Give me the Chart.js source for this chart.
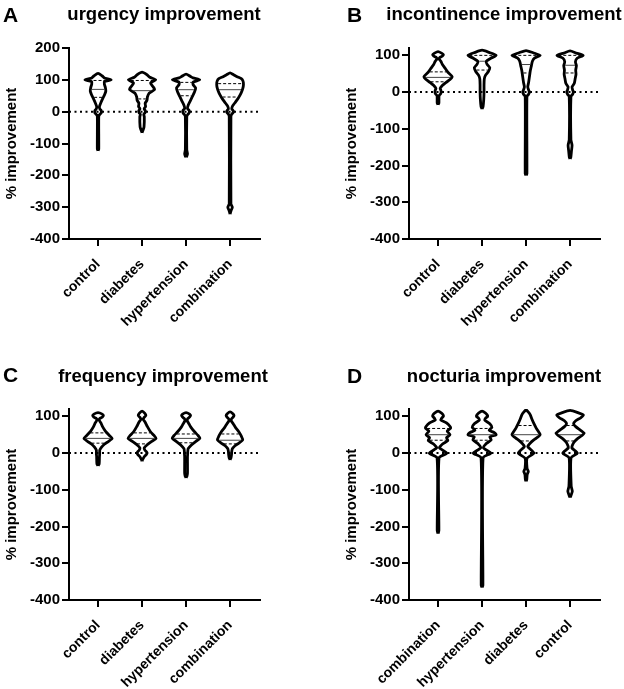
<!DOCTYPE html>
<html>
<head>
<meta charset="utf-8">
<script src="https://cdn.jsdelivr.net/npm/chart.js@4.4.1/dist/chart.umd.min.js"></script>
<style>
  body { margin: 0; background: #fff; overflow: hidden; }
  #fig { position: relative; width: 624px; height: 689px; font-family: "Liberation Sans", Arial, sans-serif; }
  canvas { position: absolute; }
  .tag { position: absolute; font-weight: bold; font-size: 21px; line-height: 21px; color: #000; }
  .title { position: absolute; width: 400px; text-align: center; font-weight: bold; font-size: 18.5px; line-height: 20px; color: #000; white-space: nowrap; }
</style>
</head>
<body>
<div id="fig">
  <canvas id="chartA" width="284" height="328" style="left:0;top:0"></canvas>
  <canvas id="chartB" width="284" height="328" style="left:340px;top:0"></canvas>
  <canvas id="chartC" width="284" height="328" style="left:0;top:361px"></canvas>
  <canvas id="chartD" width="284" height="328" style="left:340px;top:361px"></canvas>
  <div class="tag" style="left:3px;top:4px">A</div>
  <div class="tag" style="left:347px;top:4px">B</div>
  <div class="tag" style="left:3px;top:364px">C</div>
  <div class="tag" style="left:347px;top:365px">D</div>
  <div class="title" id="titleA" style="left:-36px;top:4px"></div>
  <div class="title" id="titleB" style="left:304px;top:4px"></div>
  <div class="title" id="titleC" style="left:-37px;top:366px"></div>
  <div class="title" id="titleD" style="left:304px;top:366px"></div>
</div>
<script>
const groupsABC = ["control", "diabetes", "hypertension", "combination"];
const groupsD = ["combination", "hypertension", "diabetes", "control"];

// violin outlines: y levels (top to bottom) and relative density (1 = widest)
const urgencyLevels = [
  [120, 112, 106, 100, 94, 86, 76, 64, 52, 40, 28, 16, 9, 4, 0, -4, -9, -14, -118, -122],
  [124, 116, 108, 100, 90, 80, 70, 58, 46, 36, 26, 16, 9, 4, 0, -4, -9, -16, -48, -58, -66],
  [118, 111, 106, 100, 93, 85, 74, 62, 48, 34, 20, 10, 5, 0, -5, -10, -16, -120, -132, -140, -143],
  [122, 116, 110, 104, 96, 85, 72, 58, 44, 30, 18, 9, 4, 0, -4, -9, -16, -290, -300, -312, -322]
];
const urgencyDensity = [
  [0, 0.3, 0.45, 0.93, 0.45, 0.45, 0.52, 0.55, 0.45, 0.32, 0.2, 0.1, 0.12, 0.22, 0.24, 0.22, 0.12, 0.05, 0.05, 0],
  [0, 0.35, 0.55, 0.97, 0.6, 0.75, 0.9, 0.5, 0.38, 0.35, 0.22, 0.25, 0.15, 0.22, 0.24, 0.2, 0.12, 0.16, 0.14, 0.07, 0],
  [0, 0.3, 0.5, 0.97, 0.5, 0.5, 0.68, 0.6, 0.45, 0.3, 0.15, 0.1, 0.2, 0.24, 0.2, 0.1, 0.05, 0.05, 0.1, 0.05, 0],
  [0, 0.25, 0.5, 0.8, 0.92, 0.95, 0.9, 0.78, 0.6, 0.38, 0.18, 0.12, 0.2, 0.25, 0.2, 0.1, 0.06, 0.06, 0.16, 0.06, 0]
];
const urgencyMedian = [70, 66, 69, 69];
const urgencyQ1 = [45, 40, 50, 46];
const urgencyQ3 = [98, 98, 92, 88];

const incontinenceLevels = [
  [110, 106, 102, 98, 94, 90, 84, 76, 66, 54, 42, 34, 26, 18, 10, 5, 0, -5, -10, -30, -34],
  [114, 108, 100, 92, 84, 76, 66, 56, 46, 36, 20, 0, -20, -40, -46],
  [113, 107, 100, 93, 84, 72, 58, 42, 26, 14, 6, 0, -6, -12, -222, -227],
  [112, 106, 100, 92, 82, 72, 60, 48, 36, 24, 14, 6, 0, -6, -12, -130, -145, -160, -178, -182]
];
const incontinenceDensity = [
  [0, 0.25, 0.38, 0.3, 0.12, 0.08, 0.2, 0.3, 0.48, 0.7, 1.0, 0.85, 0.55, 0.3, 0.15, 0.2, 0.22, 0.18, 0.07, 0.06, 0],
  [0, 0.5, 1.0, 0.62, 0.3, 0.35, 0.55, 0.45, 0.25, 0.16, 0.14, 0.14, 0.12, 0.07, 0],
  [0, 0.5, 1.0, 0.62, 0.45, 0.38, 0.3, 0.24, 0.18, 0.12, 0.18, 0.24, 0.18, 0.06, 0.06, 0],
  [0, 0.45, 0.93, 0.5, 0.38, 0.45, 0.4, 0.42, 0.36, 0.3, 0.14, 0.18, 0.24, 0.18, 0.06, 0.06, 0.14, 0.1, 0.05, 0]
];
const incontinenceMedian = [40, 84, 75, 73];
const incontinenceQ1 = [28, 60, 52, 52];
const incontinenceQ3 = [55, 100, 100, 100];

const frequencyLevels = [
  [110, 106, 102, 98, 94, 90, 82, 72, 60, 48, 40, 32, 24, 16, 8, 0, -10, -30, -34],
  [114, 108, 102, 97, 92, 84, 72, 58, 48, 40, 32, 22, 14, 8, 4, 0, -4, -10, -18, -22],
  [110, 106, 102, 98, 93, 88, 80, 70, 58, 48, 40, 32, 22, 12, 4, 0, -10, -55, -63, -67],
  [112, 107, 102, 98, 93, 88, 80, 70, 58, 46, 36, 28, 20, 12, 5, -5, -14, -18]
];
const frequencyDensity = [
  [0, 0.3, 0.38, 0.3, 0.12, 0.08, 0.2, 0.32, 0.52, 0.8, 1.0, 0.75, 0.45, 0.25, 0.12, 0.12, 0.1, 0.08, 0],
  [0, 0.2, 0.27, 0.15, 0.08, 0.22, 0.38, 0.6, 0.85, 1.0, 0.7, 0.35, 0.15, 0.2, 0.3, 0.36, 0.3, 0.15, 0.04, 0],
  [0, 0.25, 0.32, 0.25, 0.1, 0.08, 0.2, 0.35, 0.6, 0.85, 0.98, 0.7, 0.38, 0.15, 0.12, 0.12, 0.1, 0.1, 0.06, 0],
  [0, 0.2, 0.28, 0.22, 0.1, 0.08, 0.22, 0.38, 0.62, 0.8, 0.9, 0.65, 0.35, 0.16, 0.12, 0.1, 0.06, 0]
];
const frequencyMedian = [40, 40, 40, 35];
const frequencyQ1 = [27, 25, 28, 25];
const frequencyQ3 = [55, 55, 52, 52];

const nocturiaLevels = [
  [114, 109, 104, 100, 95, 90, 82, 68, 60, 50, 42, 34, 24, 14, 0, -13, -210, -216, -219],
  [114, 109, 104, 100, 95, 90, 80, 70, 62, 56, 50, 44, 36, 26, 14, 0, -13, -360, -366],
  [118, 112, 104, 92, 80, 68, 56, 50, 44, 36, 28, 18, 0, -14, -42, -50, -58, -72, -77],
  [116, 110, 103, 96, 88, 80, 72, 62, 54, 48, 40, 30, 20, 14, 0, -13, -90, -104, -116, -121]
];
const nocturiaDensity = [
  [0, 0.25, 0.36, 0.38, 0.25, 0.2, 0.6, 0.9, 0.65, 0.85, 0.6, 0.7, 0.3, 0.1, 0.62, 0.07, 0.06, 0.03, 0],
  [0, 0.25, 0.36, 0.4, 0.25, 0.18, 0.55, 0.7, 0.5, 0.85, 1.0, 0.55, 0.65, 0.3, 0.1, 0.62, 0.07, 0.06, 0],
  [0, 0.15, 0.3, 0.42, 0.56, 0.72, 0.92, 1.0, 0.85, 0.55, 0.32, 0.12, 0.55, 0.07, 0.07, 0.16, 0.08, 0.05, 0],
  [0, 0.55, 0.95, 0.75, 0.4, 0.25, 0.4, 0.75, 1.0, 0.85, 0.55, 0.28, 0.15, 0.12, 0.52, 0.07, 0.08, 0.16, 0.06, 0]
];
const nocturiaMedian = [50, 50, 50, 50];
const nocturiaQ1 = [35, 35, 33, 33];
const nocturiaQ3 = [67, 67, 75, 75];

const FONT = "'Liberation Sans', Arial, sans-serif";
const HALF = 0.32; // half width of the widest violin, in category units

const densityAt = (levels, dens, v) => {
  for (let k = 0; k < levels.length - 1; k++) {
    if (v <= levels[k] && v >= levels[k + 1]) {
      const t = (levels[k] - v) / (levels[k] - levels[k + 1]);
      return dens[k] + t * (dens[k + 1] - dens[k]);
    }
  }
  return 0;
};

const outline = (center, levels, dens) => {
  const pts = [];
  for (let k = levels.length - 1; k >= 0; k--) pts.push({ x: center + dens[k] * HALF, y: levels[k] });
  for (let k = 1; k < levels.length; k++) pts.push({ x: center - dens[k] * HALF, y: levels[k] });
  return pts;
};

const hLine = (center, levels, dens, v, dashed) => {
  const w = Math.max(densityAt(levels, dens, v) * HALF - 0.03, 0);
  return {
    data: [{ x: center - w, y: v }, { x: center + w, y: v }],
    showLine: true,
    borderColor: dashed ? "#000" : "#444",
    borderWidth: 1,
    borderDash: dashed ? [3, 2] : [],
    pointRadius: 0,
    fill: false,
  };
};

const makeChart = (id, title, groups, levels, dens, median, q1, q3, yMax) => {
  document.getElementById("title" + id.slice(-1)).textContent = title;

  const datasets = [];
  groups.forEach((g, i) => {
    datasets.push(hLine(i, levels[i], dens[i], median[i], false));
    datasets.push(hLine(i, levels[i], dens[i], q1[i], true));
    datasets.push(hLine(i, levels[i], dens[i], q3[i], true));
    datasets.push({
      label: g,
      data: outline(i, levels[i], dens[i]),
      showLine: true,
      borderColor: "#000",
      borderWidth: 2.8,
      borderJoinStyle: "round",
      tension: 0.2,
      pointRadius: 0,
      fill: false,
    });
  });
  // dotted zero line (last dataset, drawn underneath)
  datasets.push({
    data: [{ x: -0.66, y: 0 }, { x: 3.68, y: 0 }],
    showLine: true,
    borderColor: "#000",
    borderWidth: 2,
    borderDash: [2, 3.5],
    pointRadius: 0,
    fill: false,
  });

  new Chart(document.getElementById(id), {
    type: "scatter",
    data: { datasets },
    options: {
      responsive: false,
      animation: false,
      layout: { padding: { left: 0, right: 24, top: 48, bottom: 0 } },
      plugins: {
        legend: { display: false },
        tooltip: { enabled: false },
      },
      scales: {
        x: {
          type: "linear",
          min: -0.66,
          max: 3.68,
          border: { display: true, color: "#000", width: 2 },
          grid: { drawOnChartArea: false, drawTicks: true, tickLength: 7, color: "#000", lineWidth: 2 },
          ticks: {
            stepSize: 1,
            includeBounds: false,
            autoSkip: false,
            maxRotation: 45,
            minRotation: 45,
            padding: 10,
            color: "#000",
            font: { family: FONT, size: 14, weight: "bold" },
            callback: (v) => (Number.isInteger(v) ? groups[v] : ""),
          },
          afterFit: (s) => { s.height = 89; },
        },
        y: {
          min: -400,
          max: yMax,
          border: { display: true, color: "#000", width: 2 },
          grid: { drawOnChartArea: false, drawTicks: true, tickLength: 7, color: "#000", lineWidth: 2 },
          ticks: { stepSize: 100, includeBounds: false, padding: 2, color: "#000", font: { family: FONT, size: 15, weight: "bold" } },
          title: {
            display: true,
            text: "% improvement",
            color: "#000",
            font: { family: FONT, size: 15, weight: "bold" },
            padding: { top: 3, bottom: 0 },
          },
          afterFit: (s) => { s.width = 69; },
        },
      },
    },
  });
};

makeChart("chartA", "urgency improvement", groupsABC, urgencyLevels, urgencyDensity, urgencyMedian, urgencyQ1, urgencyQ3, 200);
makeChart("chartB", "incontinence improvement", groupsABC, incontinenceLevels, incontinenceDensity, incontinenceMedian, incontinenceQ1, incontinenceQ3, 120);
makeChart("chartC", "frequency improvement", groupsABC, frequencyLevels, frequencyDensity, frequencyMedian, frequencyQ1, frequencyQ3, 120);
makeChart("chartD", "nocturia improvement", groupsD, nocturiaLevels, nocturiaDensity, nocturiaMedian, nocturiaQ1, nocturiaQ3, 120);
</script>
</body>
</html>
